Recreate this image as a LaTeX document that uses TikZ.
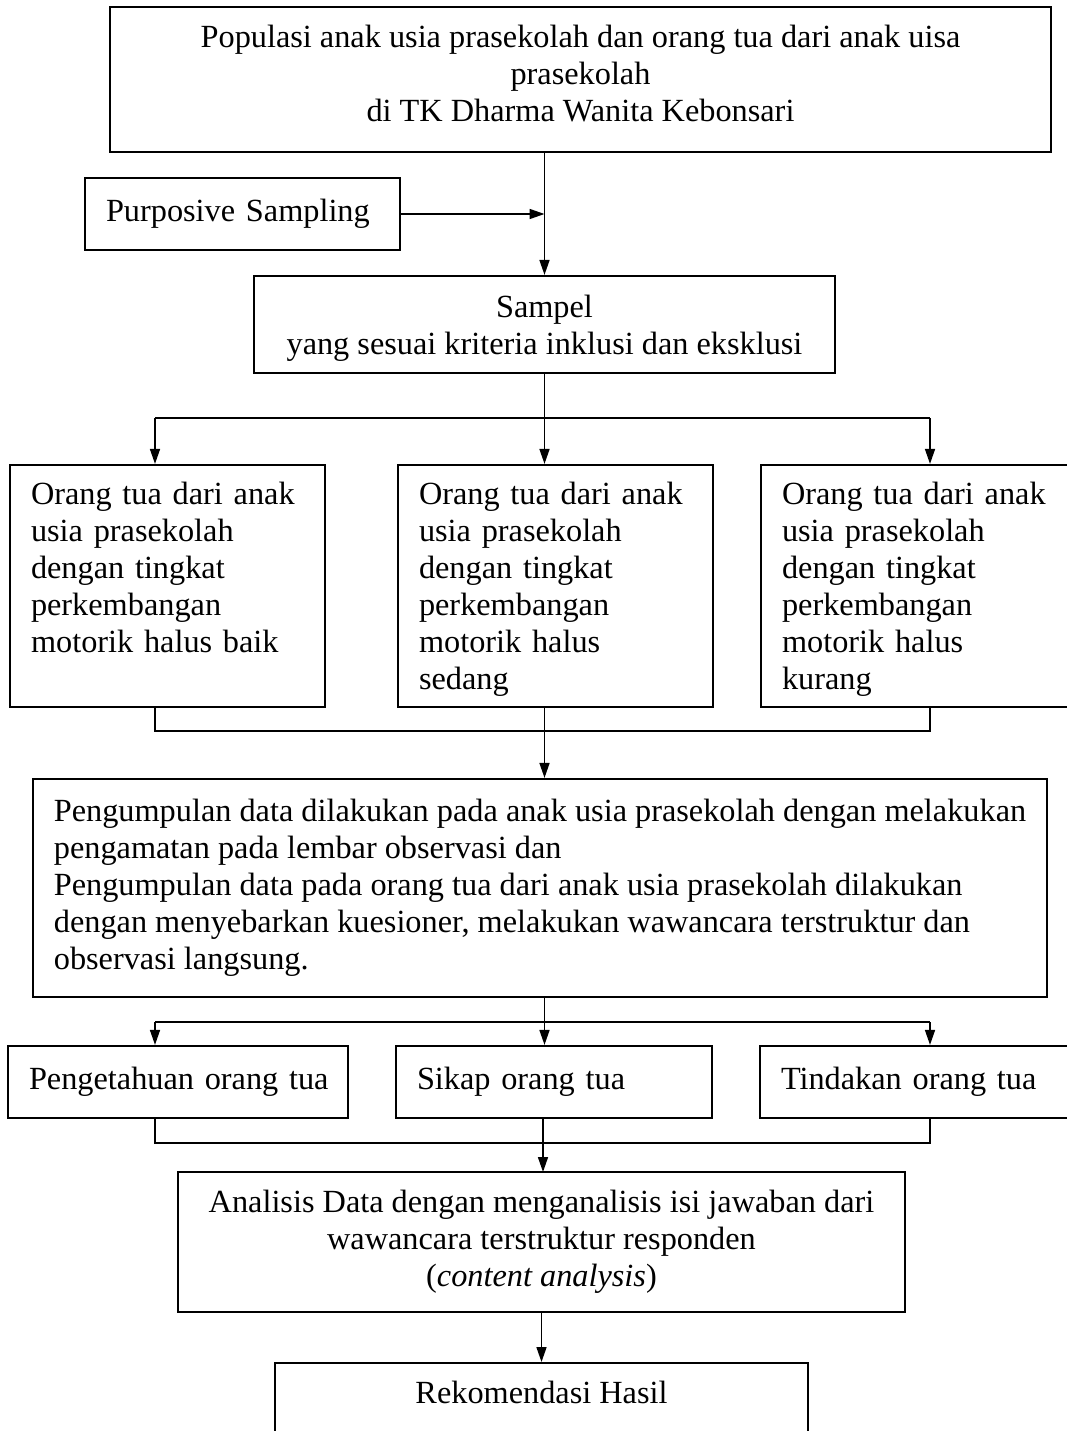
\documentclass[tikz,border=0pt]{standalone}
\usepackage{fontspec}
\setmainfont{Liberation Serif}
\usetikzlibrary{arrows.meta}
\newcommand{\lines}[1]{\begin{tabular}{@{}l@{}}#1\end{tabular}}
\newcommand{\clines}[1]{\begin{tabular}{@{}c@{}}#1\end{tabular}}
\begin{document}
\begin{tikzpicture}[x=1pt,y=-1pt,
  every node/.style={font=\fontsize{32.3pt}{37pt}\selectfont},
  box/.style={draw, line width=2.2pt, inner sep=0pt},
  lbox/.style={box, align=left},
  cbox/.style={box, align=center},
  conn/.style={line width=1.6pt},
  arr/.style={conn, -{Triangle[length=15pt,width=10pt]}}]
\useasboundingbox[fill=white] (0,0) rectangle (1067,1431);
% nodes
\node[cbox, minimum width=941pt, minimum height=145pt] (pop) at (580.5,79.5)
  {\clines{Populasi anak usia prasekolah dan orang tua dari anak uisa\\prasekolah\\di TK Dharma Wanita Kebonsari\\[5pt]}};
\node[lbox, minimum width=315pt, minimum height=72pt, text width=273pt] (purp) at (242.5,214)
  {\lines{Purposive Sampling}};
\node[cbox, minimum width=581pt, minimum height=97pt] (sam) at (544.5,324.5)
  {\clines{\rule{0pt}{34pt}Sampel\\yang sesuai kriteria inklusi dan eksklusi}};
\node[lbox, minimum width=315pt, minimum height=242pt, text width=273pt] (l1) at (167.5,586)
  {\lines{\rule{0pt}{34pt}Orang tua dari anak\\usia prasekolah\\dengan tingkat\\perkembangan\\motorik halus baik\\\mbox{}}};
\node[lbox, minimum width=315pt, minimum height=242pt, text width=273pt] (m1) at (555.5,586)
  {\lines{\rule{0pt}{34pt}Orang tua dari anak\\usia prasekolah\\dengan tingkat\\perkembangan\\motorik halus\\sedang}};
\node[lbox, minimum width=315pt, minimum height=242pt, text width=273pt] (r1) at (918.5,586)
  {\lines{\rule{0pt}{34pt}Orang tua dari anak\\usia prasekolah\\dengan tingkat\\perkembangan\\motorik halus\\kurang}};
\node[lbox, minimum width=1014pt, minimum height=218pt] (peng) at (540,888)
  {\lines{Pengumpulan data dilakukan pada anak usia prasekolah dengan melakukan\\pengamatan pada lembar observasi dan\\Pengumpulan data pada orang tua dari anak usia prasekolah dilakukan\\dengan menyebarkan kuesioner, melakukan wawancara terstruktur dan\\observasi langsung.}};
\node[lbox, minimum width=340pt, minimum height=72pt, text width=298pt] (l2) at (178,1082)
  {\lines{Pengetahuan orang tua}};
\node[lbox, minimum width=316pt, minimum height=72pt, text width=274pt] (m2) at (554,1082)
  {\lines{Sikap orang tua}};
\node[lbox, minimum width=316pt, minimum height=72pt, text width=274pt] (r2) at (918,1082)
  {\lines{Tindakan orang tua}};
\node[cbox, minimum width=727pt, minimum height=140pt] (ana) at (541.5,1242)
  {\clines{Analisis Data dengan menganalisis isi jawaban dari\\wawancara terstruktur responden\\(\textit{content analysis})}};
\node[cbox, anchor=north, minimum width=533pt, inner ysep=10pt, text height=30pt, text depth=60pt] (rek) at (541.5,1362)
  {Rekomendasi Hasil};
% coordinates
\coordinate (s1) at (155,418);
\coordinate (s2) at (930,418);
\coordinate (j1) at (155,731);
\coordinate (j2) at (930,731);
\coordinate (t1) at (155,1022);
\coordinate (t2) at (930,1022);
\coordinate (k1) at (155,1143);
\coordinate (k2) at (930,1143);
% connectors
\draw[arr] (pop.south -| sam.north) -- (sam.north);
\draw[arr] (purp.east) -- (purp.east -| sam.north);
\draw[conn] (s1) -- (s2);
\draw[arr] (sam.south) -- (sam.south |- m1.north);
\draw[arr] (s1) -- (s1 |- l1.north);
\draw[arr] (s2) -- (s2 |- r1.north);
\draw[conn] (s1 |- l1.south) -- (j1) -- (j2) -- (j2 |- r1.south);
\draw[arr] (sam.south |- m1.south) -- (sam.south |- peng.north);
\draw[conn] (t1) -- (t2);
\draw[arr] (sam.south |- peng.south) -- (sam.south |- m2.north);
\draw[arr] (t1) -- (t1 |- l2.north);
\draw[arr] (t2) -- (t2 |- r2.north);
\draw[conn] (k1 |- l2.south) -- (k1) -- (k2) -- (k2 |- r2.south);
\draw[arr] (543,1118) -- (543,1172);
\draw[arr] (ana.south) -- (rek.north);
\end{tikzpicture}
\end{document}
